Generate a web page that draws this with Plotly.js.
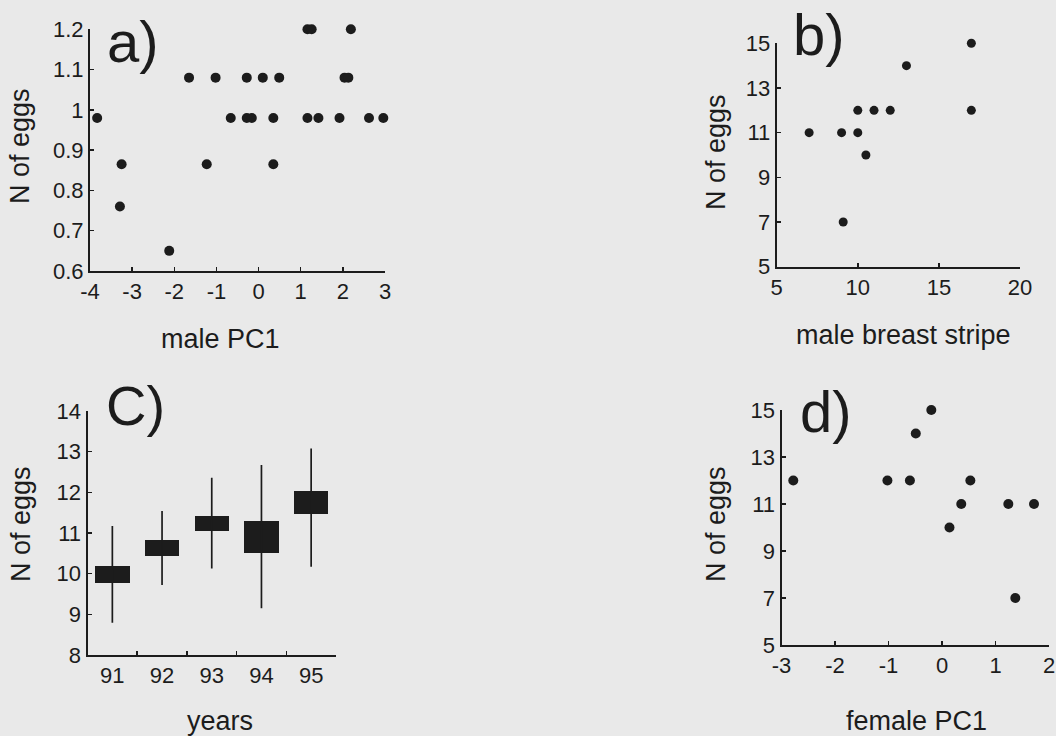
<!DOCTYPE html>
<html>
<head>
<meta charset="utf-8">
<script src="https://cdn.plot.ly/plotly-3.0.1.min.js"></script>
<style>
  html, body { margin: 0; padding: 0; background: #e9e9e9; }
  #chart { width: 1056px; height: 736px; }
</style>
</head>
<body>
<div id="chart"></div>
<script>
// ---- Panel a: N of eggs vs male PC1 ----
const aMalePC1 = [-3.83, -3.25, -3.29, -2.12, -1.65, -1.23, -1.02, -0.66, -0.28, -0.28, -0.16, 0.10, 0.35, 0.35, 0.49,
                  1.16, 1.16, 1.26, 1.42, 1.92, 2.04, 2.13, 2.19, 2.62, 2.96];
const aEggs     = [0.98, 0.865, 0.76, 0.65, 1.08, 0.865, 1.08, 0.98, 1.08, 0.98, 0.98, 1.08, 0.98, 0.865, 1.08,
                  1.2, 0.98, 1.2, 0.98, 0.98, 1.08, 1.08, 1.2, 0.98, 0.98];
const aXTicks   = [-4, -3, -2, -1, 0, 1, 2, 3];

// ---- Panel b: N of eggs vs male breast stripe ----
const bStripe = [7, 9, 9.1, 10, 10, 10.5, 11, 12, 13, 17, 17];
const bEggs   = [11, 11, 7, 11, 12, 10, 12, 12, 14, 15, 12];

// ---- Panel c: N of eggs by year (box = central range, whisker = full range) ----
const cYears    = ['91', '92', '93', '94', '95'];
const cBoxLow   = [9.78, 10.44, 11.05, 10.50, 11.47];
const cBoxHigh  = [10.19, 10.83, 11.42, 11.29, 12.04];
const cWhiskLow = [8.79, 9.72, 10.13, 9.15, 10.17];
const cWhiskHigh= [11.17, 11.54, 12.36, 12.67, 13.08];

// ---- Panel d: N of eggs vs female PC1 ----
const dFemalePC1 = [-2.78, -1.02, -0.60, -0.49, -0.20, 0.14, 0.36, 0.53, 1.24, 1.37, 1.72];
const dEggs      = [12, 12, 12, 14, 15, 10, 11, 12, 11, 7, 11];
const dXTicks    = [-3, -2, -1, 0, 1, 2];

const INK = '#1c1c1c';
const FONT = 'Liberation Sans, Arial, Helvetica, sans-serif';

// whisker segments built from the data arrays
const wx = [], wy = [];
cYears.forEach((yr, i) => { wx.push(yr, yr, null); wy.push(cWhiskLow[i], cWhiskHigh[i], null); });

const traces = [
  { type: 'scatter', mode: 'markers', x: aMalePC1, y: aEggs, xaxis: 'x', yaxis: 'y',
    marker: { color: INK, size: 10 }, cliponaxis: false },
  { type: 'scatter', mode: 'markers', x: bStripe, y: bEggs, xaxis: 'x2', yaxis: 'y2',
    marker: { color: INK, size: 9 }, cliponaxis: false },
  { type: 'scatter', mode: 'lines', x: wx, y: wy, xaxis: 'x3', yaxis: 'y3',
    line: { color: INK, width: 1.7 }, connectgaps: false },
  { type: 'bar', x: cYears, base: cBoxLow, y: cBoxHigh.map((h, i) => h - cBoxLow[i]),
    xaxis: 'x3', yaxis: 'y3', width: 0.69, marker: { color: INK, line: { width: 0 } } },
  { type: 'scatter', mode: 'markers', x: dFemalePC1, y: dEggs, xaxis: 'x4', yaxis: 'y4',
    marker: { color: INK, size: 10 }, cliponaxis: false }
];

const W = 1056, H = 736;
const px = v => v / W;
const py = v => 1 - v / H;

const baseAxis = {
  showline: true, linecolor: INK, linewidth: 2, showgrid: false, zeroline: false,
  ticks: 'inside', ticklen: 4, tickwidth: 1.5, tickcolor: INK,
  tickfont: { family: FONT, size: 22, color: INK }, fixedrange: true
};

const layout = {
  width: W, height: H,
  margin: { l: 0, r: 0, t: 0, b: 0, pad: 0 },
  paper_bgcolor: '#e9e9e9', plot_bgcolor: 'rgba(0,0,0,0)',
  showlegend: false, bargap: 0,
  font: { family: FONT, color: INK },
  xaxis:  Object.assign({}, baseAxis, { domain: [px(90), px(385)], range: [-4, 3],
            tickmode: 'array', tickvals: aXTicks, ticktext: aXTicks.map(String), anchor: 'y' }),
  yaxis:  Object.assign({}, baseAxis, { domain: [py(271), py(29.3)], range: [0.6, 1.2], dtick: 0.1, tick0: 0.6, anchor: 'x' }),
  xaxis2: Object.assign({}, baseAxis, { domain: [px(776.7), px(1020)], range: [5, 20], dtick: 5, anchor: 'y2' }),
  yaxis2: Object.assign({}, baseAxis, { domain: [py(266.7), py(43.3)], range: [5, 15], dtick: 2, tick0: 5, anchor: 'x2' }),
  xaxis3: Object.assign({}, baseAxis, { domain: [px(87.5), px(336)], type: 'category', categoryarray: cYears,
            categoryorder: 'array', range: [-0.5, 4.5], tickson: 'boundaries', anchor: 'y3' }),
  yaxis3: Object.assign({}, baseAxis, { domain: [py(655), py(411)], range: [8, 14], dtick: 1, anchor: 'x3' }),
  xaxis4: Object.assign({}, baseAxis, { domain: [px(781.5), px(1049)], range: [-3, 2],
            tickmode: 'array', tickvals: dXTicks, ticktext: dXTicks.map(String), anchor: 'y4' }),
  yaxis4: Object.assign({}, baseAxis, { domain: [py(645), py(410)], range: [5, 15], dtick: 2, tick0: 5, anchor: 'x4' }),
  annotations: [
    // panel letters
    { text: 'a)', x: px(105), y: py(42), xanchor: 'left', yanchor: 'middle', font: { size: 58 } },
    { text: 'b)', x: px(791), y: py(35), xanchor: 'left', yanchor: 'middle', font: { size: 58 } },
    { text: 'C)', x: px(104), y: py(405), xanchor: 'left', yanchor: 'middle', font: { size: 56 } },
    { text: 'd)', x: px(798), y: py(411), xanchor: 'left', yanchor: 'middle', font: { size: 58 } },
    // axis titles
    { text: 'male PC1', x: px(220), y: py(339), xanchor: 'center', yanchor: 'middle', font: { size: 27 } },
    { text: 'male breast stripe', x: px(903), y: py(335), xanchor: 'center', yanchor: 'middle', font: { size: 27 } },
    { text: 'years', x: px(220), y: py(721), xanchor: 'center', yanchor: 'middle', font: { size: 27 } },
    { text: 'female PC1', x: px(916.7), y: py(721), xanchor: 'center', yanchor: 'middle', font: { size: 27 } },
    { text: 'N of eggs', x: px(20), y: py(146), textangle: -90, xanchor: 'center', yanchor: 'middle', font: { size: 27 } },
    { text: 'N of eggs', x: px(716), y: py(152), textangle: -90, xanchor: 'center', yanchor: 'middle', font: { size: 27 } },
    { text: 'N of eggs', x: px(21), y: py(524), textangle: -90, xanchor: 'center', yanchor: 'middle', font: { size: 27 } },
    { text: 'N of eggs', x: px(716), y: py(524), textangle: -90, xanchor: 'center', yanchor: 'middle', font: { size: 27 } }
  ].map(a => Object.assign({ xref: 'paper', yref: 'paper', showarrow: false }, a))
};

Plotly.newPlot('chart', traces, layout, { staticPlot: true, displayModeBar: false });
</script>
</body>
</html>
